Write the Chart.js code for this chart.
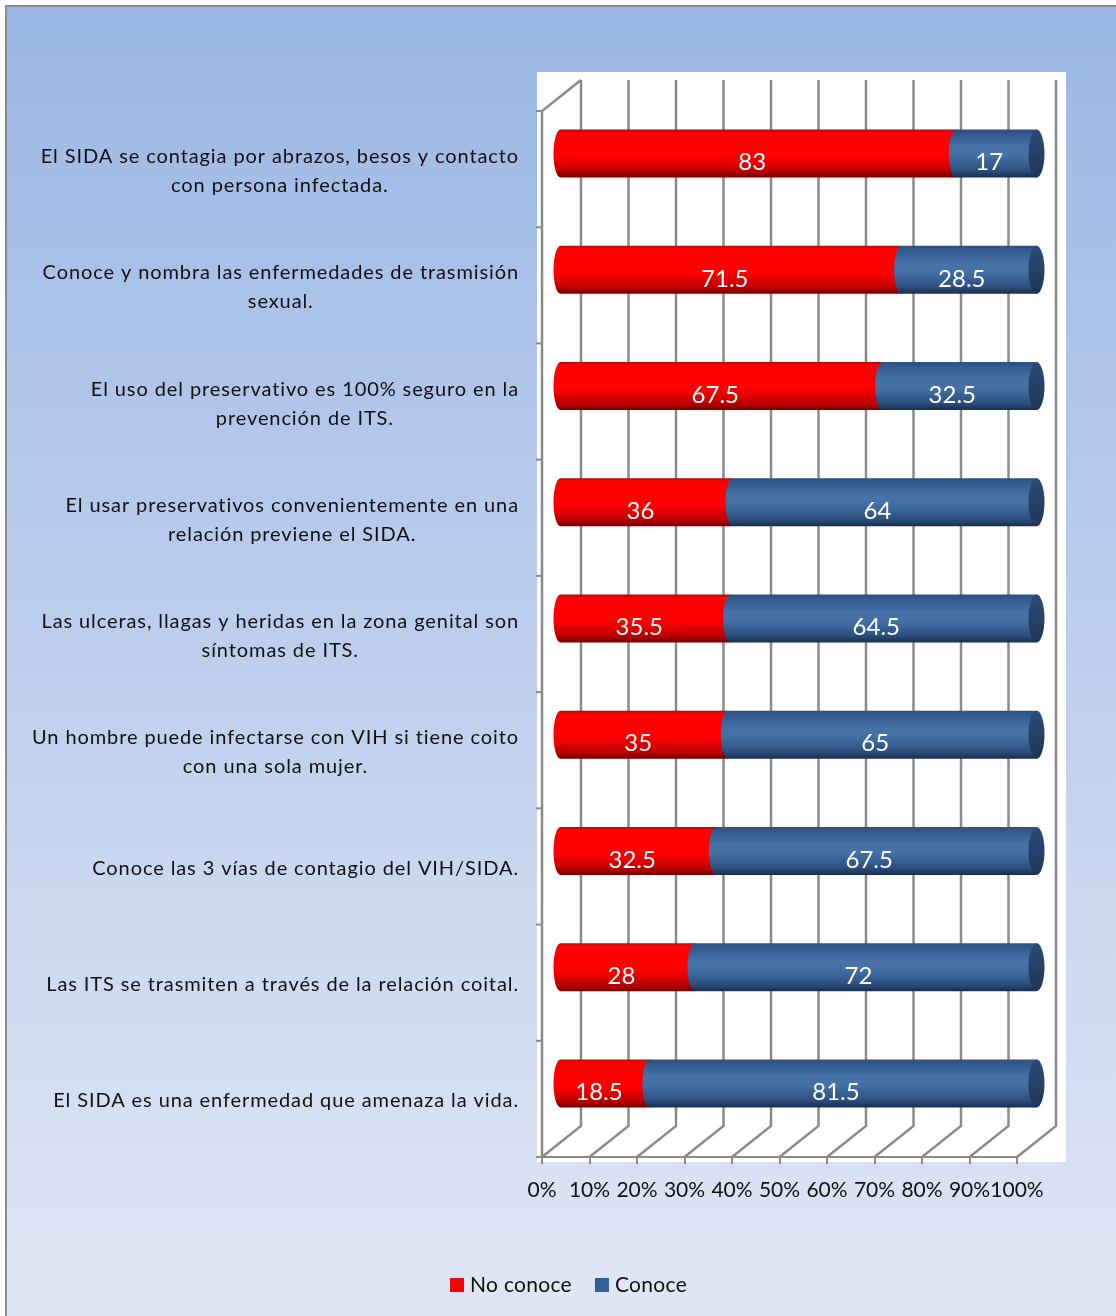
<!DOCTYPE html>
<html lang="es">
<head>
<meta charset="UTF-8">
<title>Conocimientos sobre ITS y VIH/SIDA</title>
<script src="https://cdn.jsdelivr.net/npm/chart.js"></script>
<style>
  html, body { margin: 0; padding: 0; background: #fff; }
  .chart-box { position: relative; width: 1116px; height: 1316px; }
</style>
</head>
<body>

<div class="chart-box">
  <canvas id="grafico"></canvas>
</div>

<script>
  // Preguntas (cada una partida en líneas tal como se muestran)
  const preguntas = [
    ['El SIDA se contagia por abrazos, besos y contacto', 'con persona infectada.'],
    ['Conoce y nombra las enfermedades de trasmisión', 'sexual.'],
    ['El uso del preservativo es 100% seguro en la', 'prevención de ITS.'],
    ['El usar preservativos convenientemente en una', 'relación previene el SIDA.'],
    ['Las ulceras, llagas y heridas en la zona genital son', 'síntomas de ITS.'],
    ['Un hombre puede infectarse con VIH si tiene coito', 'con una sola mujer.'],
    ['Conoce las 3 vías de contagio del VIH/SIDA.'],
    ['Las ITS se trasmiten a través de la relación coital.'],
    ['El SIDA es una enfermedad que amenaza la vida.']
  ];
  const noConoce = [83, 71.5, 67.5, 36, 35.5, 35, 32.5, 28, 18.5];
  const conoce = [17, 28.5, 32.5, 64, 64.5, 65, 67.5, 72, 81.5];
  const ticksX = [0, 10, 20, 30, 40, 50, 60, 70, 80, 90, 100];

  const FUENTE = 'Lato, "Open Sans", sans-serif';
  const GRIS = '#8a8a8a';
  // desplazamiento de la pared del fondo (efecto 3D)
  const PROF_X = 39;
  const PROF_Y = -31;

  // fondo degradado, marco y zona blanca del gráfico
  const fondo = {
    id: 'fondo',
    beforeDraw(chart) {
      const ctx = chart.ctx;
      const a = chart.chartArea;
      ctx.save();
      const g = ctx.createLinearGradient(0, 6, 0, chart.height);
      g.addColorStop(0, '#9bb7e5');
      g.addColorStop(1, '#e0e7f5');
      ctx.fillStyle = g;
      ctx.fillRect(6, 6, chart.width - 6, chart.height - 6);
      ctx.strokeStyle = GRIS;
      ctx.lineWidth = 2;
      ctx.beginPath();
      ctx.moveTo(6, chart.height);
      ctx.lineTo(6, 6);
      ctx.lineTo(chart.width, 6);
      ctx.stroke();
      ctx.fillStyle = '#ffffff';
      ctx.fillRect(a.left - 5, a.top + PROF_Y - 8, a.width + PROF_X + 15, a.height - PROF_Y + 13);
      ctx.restore();
    }
  };

  function cilindro(ctx, x0, x1, cy, alto, colores, tapa) {
    const ry = alto / 2, rx = 7;
    const top = cy - ry, bot = cy + ry;
    const g = ctx.createLinearGradient(0, top, 0, bot);
    colores.forEach(c => g.addColorStop(c[0], c[1]));
    ctx.fillStyle = g;
    ctx.beginPath();
    ctx.moveTo(x0, top);
    ctx.lineTo(x1, top);
    ctx.ellipse(x1, cy, rx, ry, 0, -Math.PI / 2, Math.PI / 2, false);
    ctx.lineTo(x0, bot);
    ctx.ellipse(x0, cy, rx, ry, 0, Math.PI / 2, Math.PI * 1.5, false);
    ctx.closePath();
    ctx.fill();
    if (tapa) {
      const gt = ctx.createLinearGradient(0, top, 0, bot);
      gt.addColorStop(0, tapa[0]);
      gt.addColorStop(1, tapa[1]);
      ctx.fillStyle = gt;
      ctx.beginPath();
      ctx.ellipse(x1, cy, rx + 1, ry, 0, 0, Math.PI * 2);
      ctx.fill();
    }
  }

  const ROJO = [[0, '#c40000'], [0.06, '#ff0000'], [0.55, '#ff0000'], [0.85, '#c00000'], [1, '#6e0000']];
  const AZUL = [[0, '#2c5083'], [0.35, '#4672a8'], [0.55, '#4470a6'], [0.85, '#2d4f7e'], [1, '#1a2e4c']];

  // paredes 3D, cilindros y rótulos de valores
  const barras3d = {
    id: 'barras3d',
    beforeDatasetsDraw(chart) {
      const ctx = chart.ctx;
      const a = chart.chartArea;
      const xs = chart.scales.x;
      const ys = chart.scales.y;
      ctx.save();
      ctx.strokeStyle = GRIS;
      ctx.lineWidth = 2.5;

      // líneas verticales del fondo y diagonales del piso
      ticksX.forEach(v => {
        const x = xs.getPixelForValue(v);
        ctx.beginPath();
        ctx.moveTo(x + PROF_X, a.top + PROF_Y);
        ctx.lineTo(x + PROF_X, a.bottom + PROF_Y);
        ctx.lineTo(x, a.bottom);
        ctx.stroke();
      });

      // eje izquierdo frontal con su arista superior
      ctx.beginPath();
      ctx.moveTo(a.left + PROF_X, a.top + PROF_Y);
      ctx.lineTo(a.left, a.top);
      ctx.lineTo(a.left, a.bottom);
      ctx.stroke();

      ctx.lineWidth = 2;
      for (let i = 0; i <= preguntas.length; i++) {
        const y = ys.getPixelForValue(i - 0.5);
        ctx.beginPath();
        ctx.moveTo(a.left - 6, y);
        ctx.lineTo(a.left, y);
        ctx.stroke();
      }

      // textos de las preguntas
      ctx.fillStyle = '#111111';
      ctx.font = '20px ' + FUENTE;
      ctx.letterSpacing = '0.9px';
      ctx.textAlign = 'center';
      ctx.textBaseline = 'middle';
      preguntas.forEach((lineas, i) => {
        const cy = ys.getPixelForValue(i) + 2;
        const ancho = Math.max(...lineas.map(l => ctx.measureText(l).width));
        const cx = a.left - 23 - ancho / 2;
        lineas.forEach((l, k) => {
          ctx.fillText(l, cx, cy + (k - (lineas.length - 1) / 2) * 29);
        });
      });
      ctx.letterSpacing = '0px';

      // cilindros apilados a media profundidad
      const mRojo = chart.getDatasetMeta(0).data;
      const mAzul = chart.getDatasetMeta(1).data;
      const dx = PROF_X / 2, dy = PROF_Y / 2;
      mRojo.forEach((bar, i) => {
        const azul = mAzul[i];
        const cy = bar.y + dy;
        cilindro(ctx, bar.base + dx - 2, bar.x + dx, cy, bar.height, ROJO);
        cilindro(ctx, azul.base + dx, azul.x + dx, cy, azul.height, AZUL, ['#2a4c78', '#1f3656']);
      });

      ctx.fillStyle = '#ffffff';
      ctx.font = '24px ' + FUENTE;
      [[mRojo, noConoce], [mAzul, conoce]].forEach(([meta, valores]) => {
        meta.forEach((bar, i) => {
          const mx = (bar.base + bar.x) / 2 + dx - 7;
          ctx.fillText(String(valores[i]), mx, bar.y + dy + 9);
        });
      });
      ctx.restore();
      return false;
    }
  };

  // leyenda inferior
  const leyenda = {
    id: 'leyenda',
    afterDraw(chart) {
      const ctx = chart.ctx;
      ctx.save();
      ctx.font = '21px ' + FUENTE;
      ctx.letterSpacing = '0.3px';
      ctx.textBaseline = 'middle';
      ctx.textAlign = 'left';
      let x = 450;
      const y = 1285;
      chart.data.datasets.forEach(ds => {
        ctx.fillStyle = ds.backgroundColor;
        ctx.fillRect(x, y - 7, 14, 14);
        ctx.fillStyle = '#111111';
        ctx.fillText(ds.label, x + 20, y);
        x += 20 + ctx.measureText(ds.label).width + 23;
      });
      ctx.restore();
    }
  };

  new Chart(document.getElementById('grafico'), {
    type: 'bar',
    data: {
      labels: preguntas,
      datasets: [{
        label: 'No conoce',
        data: noConoce,
        backgroundColor: '#ff0000',
        categoryPercentage: 1,
        barPercentage: 0.413
      }, {
        label: 'Conoce',
        data: conoce,
        backgroundColor: '#34609a',
        categoryPercentage: 1,
        barPercentage: 0.413
      }]
    },
    options: {
      indexAxis: 'y',
      responsive: true,
      maintainAspectRatio: false,
      animation: false,
      layout: {
        padding: { left: 542, top: 111, right: 99, bottom: 0 }
      },
      plugins: {
        legend: { display: false },
        tooltip: { enabled: false }
      },
      scales: {
        x: {
          stacked: true,
          min: 0,
          max: 100,
          afterFit: s => { s.height = 159; },
          afterBuildTicks: s => { s.ticks = ticksX.map(v => ({ value: v })); },
          ticks: {
            callback: v => v + '%',
            font: { family: FUENTE, size: 21 },
            color: '#111111',
            padding: 14,
            maxRotation: 0,
            autoSkip: false
          },
          grid: {
            drawOnChartArea: false,
            drawTicks: true,
            tickLength: 7,
            color: GRIS,
            lineWidth: 2
          },
          border: { display: true, color: GRIS, width: 2 }
        },
        y: {
          stacked: true,
          display: false
        }
      }
    },
    plugins: [fondo, barras3d, leyenda]
  });
</script>
</body>
</html>
